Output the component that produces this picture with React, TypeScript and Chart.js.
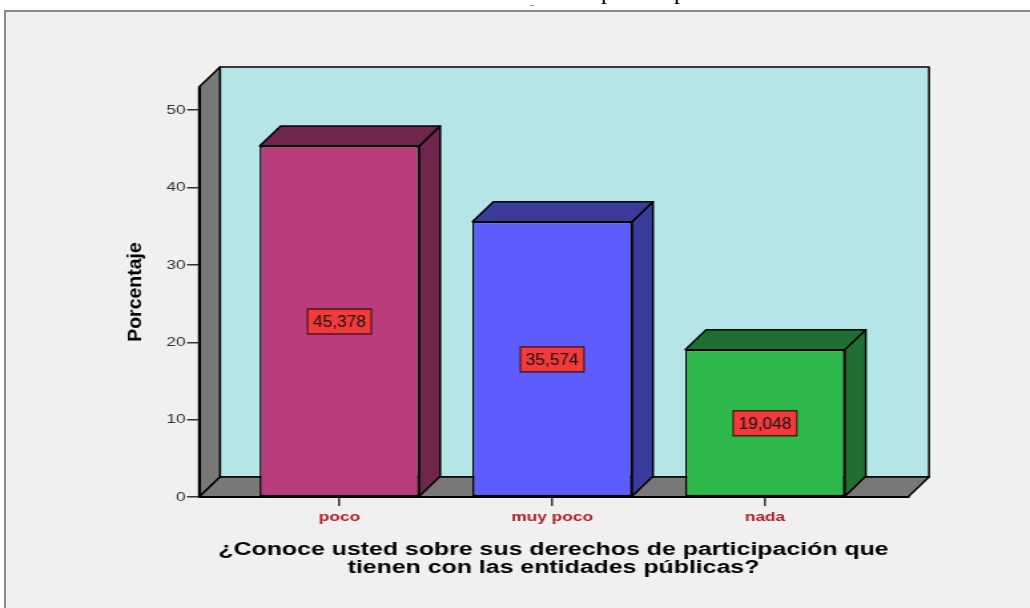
import React, { useEffect, useRef } from 'react';
import { Chart, registerables } from 'chart.js';

Chart.register(...registerables);

// ---- data ----
const categories = ['poco', 'muy poco', 'nada'];
const percentages = [45.378, 35.574, 19.048];
const yTickValues = [0, 10, 20, 30, 40, 50];
const yAxisMax = 53;
const xAxisTitle = ['¿Conoce usted sobre sus derechos de participación que', 'tienen con las entidades públicas?'];
const yAxisTitle = 'Porcentaje';

// ---- styles ----
const frontColors = ['#b93d7c', '#5c5cff', '#2eb84b'];
const sideColors = ['#70264c', '#3b3b9c', '#1f7030'];
const WALL = '#787878';
const BACK = '#b4e6e8';
const FONT = '"Liberation Sans", Arial, Helvetica, sans-serif';

const SCREEN_W = 1030;
const H = 608;
const CANVAS_W = 774;
const SX = SCREEN_W / CANVAS_W; // horizontal stretch of the original picture
const DX = 21 / SX;
const DY = 20;

function poly(ctx: CanvasRenderingContext2D, pts: number[][], fill: string) {
  ctx.beginPath();
  ctx.moveTo(pts[0][0], pts[0][1]);
  for (let i = 1; i < pts.length; i++) ctx.lineTo(pts[i][0], pts[i][1]);
  ctx.closePath();
  ctx.fillStyle = fill;
  ctx.fill();
  ctx.stroke();
}

const threeD = {
  id: 'threeD',
  beforeDraw(chart: any) {
    const { ctx, chartArea } = chart;
    const { left: L, right: R, top: T, bottom: B } = chartArea;
    ctx.save();
    ctx.lineWidth = 1.5;
    ctx.strokeStyle = '#000';
    ctx.lineJoin = 'round';
    poly(ctx, [[L + DX, T - DY], [R + DX, T - DY], [R + DX, B - DY], [L + DX, B - DY]], BACK);
    poly(ctx, [[L, T], [L + DX, T - DY], [L + DX, B - DY], [L, B]], WALL);
    poly(ctx, [[L, B], [L + DX, B - DY], [R + DX, B - DY], [R, B]], WALL);
    ctx.restore();
  },
  afterDatasetsDraw(chart: any) {
    const { ctx } = chart;
    const ys = chart.scales.y;
    const meta = chart.getDatasetMeta(0);
    meta.data.forEach((el: any, i: number) => {
      const { x, y, base, width } = el.getProps(['x', 'y', 'base', 'width'], true);
      const x1 = x - width / 2;
      const x2 = x + width / 2;
      ctx.save();
      ctx.lineWidth = 1.5;
      ctx.strokeStyle = '#000';
      ctx.lineJoin = 'round';
      poly(ctx, [[x2, y], [x2 + DX, y - DY], [x2 + DX, base - DY], [x2, base]], sideColors[i]);
      poly(ctx, [[x1, y], [x1 + DX, y - DY], [x2 + DX, y - DY], [x2, y]], sideColors[i]);
      ctx.restore();

      // value label
      const text = percentages[i].toFixed(3).replace('.', ',');
      const cy = ys.getPixelForValue(percentages[i] / 2);
      ctx.save();
      ctx.translate(x, cy);
      ctx.scale(1.08 / SX, 1);
      ctx.font = `16px ${FONT}`;
      const tw = ctx.measureText(text).width;
      const bw = tw + 10;
      const bh = 25;
      ctx.fillStyle = '#f23a3a';
      ctx.fillRect(-bw / 2, -bh / 2, bw, bh);
      ctx.strokeStyle = '#3a1212';
      ctx.lineWidth = 1.3;
      ctx.strokeRect(-bw / 2, -bh / 2, bw, bh);
      ctx.fillStyle = '#111';
      ctx.textAlign = 'center';
      ctx.textBaseline = 'middle';
      ctx.fillText(text, 0, 1);
      ctx.restore();
    });
  },
  afterDraw(chart: any) {
    const { ctx, chartArea } = chart;
    ctx.save();
    ctx.translate(136 / SX, (chartArea.top + chartArea.bottom) / 2);
    ctx.scale(1 / SX, 1);
    ctx.rotate(-Math.PI / 2);
    ctx.font = `bold 19.5px ${FONT}`;
    ctx.fillStyle = '#000';
    ctx.textAlign = 'center';
    ctx.textBaseline = 'middle';
    ctx.fillText(yAxisTitle, 0, 0);
    ctx.restore();
  },
};

export default function App() {
  const ref = useRef<HTMLCanvasElement | null>(null);

  useEffect(() => {
    if (!ref.current) return;
    const chart = new Chart(ref.current, {
      type: 'bar',
      data: {
        datasets: [
          {
            data: percentages.map((v, i) => ({ x: i, y: v })),
            backgroundColor: frontColors,
            borderColor: '#000',
            borderWidth: 1.5,
            borderSkipped: false,
            categoryPercentage: 1,
            barPercentage: 0.75,
          } as any,
        ],
      },
      options: {
        responsive: false,
        maintainAspectRatio: false,
        animation: false,
        devicePixelRatio: 1,
        layout: { padding: { left: 0, right: 122 / SX, top: 87, bottom: 0 } },
        plugins: { legend: { display: false }, tooltip: { enabled: false } },
        scales: {
          x: {
            type: 'linear',
            min: -0.66,
            max: 2.672,
            offset: false,
            afterFit: (s: any) => { s.height = 111; },
            afterBuildTicks: (s: any) => { s.ticks = categories.map((_, i) => ({ value: i })); },
            grid: { display: true, offset: false, drawOnChartArea: false, drawTicks: true, tickLength: 9, color: '#333', lineWidth: 1.5 },
            border: { display: true, color: '#000', width: 2 },
            ticks: {
              autoSkip: false,
              maxRotation: 0,
              padding: 4,
              color: '#b01e24',
              font: { family: FONT, size: 13, weight: 'bold' },
              callback: (v: any) => categories[v] ?? '',
            },
            title: {
              display: true,
              text: xAxisTitle,
              color: '#000',
              font: { family: FONT, size: 18.7, weight: 'bold', lineHeight: 0.98 },
              padding: { top: 0, bottom: 30.5 },
            },
          } as any,
          y: {
            type: 'linear',
            min: 0,
            max: yAxisMax,
            afterFit: (s: any) => { s.width = 199 / SX; },
            afterBuildTicks: (s: any) => { s.ticks = yTickValues.map((v) => ({ value: v })); },
            grid: { display: true, drawOnChartArea: false, drawTicks: true, tickLength: 12 / SX, color: '#333', lineWidth: 1.5 },
            border: { display: true, color: '#000', width: 2 },
            ticks: {
              padding: 1,
              color: '#333',
              font: { family: FONT, size: 13 },
            },
          } as any,
        },
      },
      plugins: [threeD],
    });
    return () => chart.destroy();
  }, []);

  const pStyle: React.CSSProperties = {
    position: 'absolute',
    top: -21,
    fontFamily: '"Liberation Serif", "Times New Roman", serif',
    fontSize: 24,
    lineHeight: '24px',
    color: '#000',
  };

  return (
    <div style={{ position: 'fixed', left: 0, top: 0, width: SCREEN_W, height: H, overflow: 'hidden', background: '#fff' }}>
      <div style={{ position: 'absolute', left: 0, top: 0, width: SCREEN_W, height: 10, overflow: 'hidden' }}>
        <span style={{ ...pStyle, left: 601 }}>p</span>
        <span style={{ ...pStyle, left: 674 }}>p</span>
        <div style={{ position: 'absolute', left: 530, top: 5, width: 4, height: 1, background: '#999' }} />
      </div>
      <div
        style={{
          position: 'absolute',
          left: 4,
          top: 10,
          width: 1060,
          height: 640,
          border: '2px solid #8a8a8a',
          background: '#f0f0f0',
          boxSizing: 'border-box',
        }}
      />
      <canvas
        ref={ref}
        width={CANVAS_W}
        height={H}
        style={{ position: 'absolute', left: 0, top: 0, width: SCREEN_W, height: H, display: 'block' }}
      />
    </div>
  );
}
